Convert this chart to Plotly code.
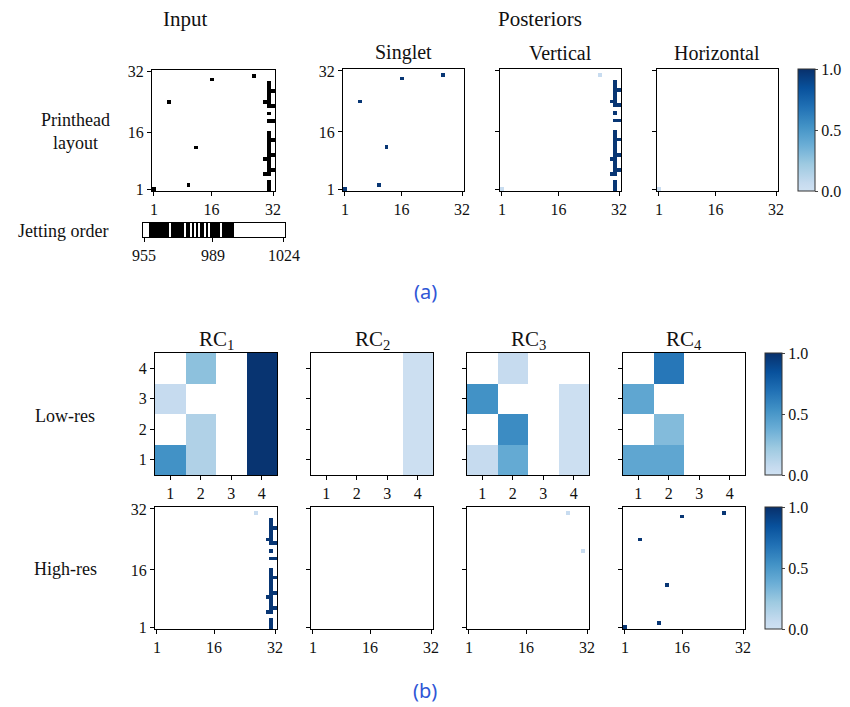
import numpy as np
import plotly.graph_objects as go

OFF = 8                      # page body margin of the browser
W, H = 850 - OFF, 707 - OFF  # figure size so that it fills the window

# ---------------- data ----------------
grid_ticks = [1, 16, 32]
low_ticks = [1, 2, 3, 4]

# printhead layout (col, row) of jetted nozzles
singlet_cells = [(1, 1), (10, 2), (12, 12), (5, 24), (16, 30), (27, 31)]
vertical_col31_rows = [1, 2, 3, 5, 6, 7, 8, 9, 10, 11, 12, 13, 14, 15, 16, 19, 21,
                       23, 24, 25, 26, 27, 28, 29]
vertical_col32_rows = [6, 10, 14, 19, 23, 27]
vertical_col30_rows = [5, 9, 24]

# jetting order strip: 955..1024, black where jetted
jet_first, jet_last = 955, 1024
jet_black = [958, 959, 960, 961, 962, 963, 964, 965, 966, 967, 969, 970, 971, 972,
             973, 974, 976, 977, 979, 981, 983, 984, 986, 988, 989, 990, 991, 992,
             994, 995, 996, 997, 998, 999]
jet_ticks = [955, 989, 1024]

# posterior values (high-res)
post_dark = 0.97
singlet_post = {c: post_dark for c in singlet_cells}
vertical_light = {(27, 31): 0.05, (1, 1): 0.04}
horizontal_post = {(1, 1): 0.03}

# low-res 4x4 maps: rows listed bottom (1) to top (4), columns 1..4
rc1_low = [[0.53, 0.15, 0.0, 0.98],
           [0.0, 0.15, 0.0, 0.98],
           [0.06, 0.0, 0.0, 0.98],
           [0.0, 0.27, 0.0, 0.98]]
rc2_low = [[0.0, 0.0, 0.0, 0.02],
           [0.0, 0.0, 0.0, 0.02],
           [0.0, 0.0, 0.0, 0.02],
           [0.0, 0.0, 0.0, 0.02]]
rc3_low = [[0.06, 0.40, 0.0, 0.02],
           [0.0, 0.56, 0.0, 0.02],
           [0.53, 0.0, 0.0, 0.02],
           [0.0, 0.06, 0.0, 0.0]]
rc4_low = [[0.42, 0.42, 0.0, 0.0],
           [0.0, 0.30, 0.0, 0.0],
           [0.42, 0.0, 0.0, 0.0],
           [0.0, 0.66, 0.0, 0.0]]

# high-res RC maps
rc3_high_light = {(27, 31): 0.05, (31, 21): 0.05}

titles_post = ["Singlet", "Vertical", "Horizontal"]
titles_rc = ["RC<sub>1</sub>", "RC<sub>2</sub>", "RC<sub>3</sub>", "RC<sub>4</sub>"]

# ---------------- helpers ----------------
blues = [[0.0, "#cfe1f2"], [0.0625, "#c6dbef"], [0.21875, "#9ecae1"],
         [0.375, "#6baed6"], [0.53125, "#4292c6"], [0.6875, "#2171b5"],
         [0.84375, "#08519c"], [1.0, "#08306b"]]

vertical_cells = ([(31, r) for r in vertical_col31_rows] +
                  [(32, r) for r in vertical_col32_rows] +
                  [(30, r) for r in vertical_col30_rows])


def grid32(d):
    z = np.full((32, 32), np.nan)
    for (c, r), v in d.items():
        z[r - 1, c - 1] = v
    return z


def lowgrid(rows):
    z = np.array(rows, dtype=float)
    z[z == 0] = np.nan
    return z


def px(x):
    return (x - OFF) / W


def py(y):
    return 1 - (y - OFF) / H


def dx(l, r):
    return [px(l), px(r)]


def dy(t, b):
    return [py(b), py(t)]


SERIF = "Liberation Serif"
tickfont = dict(family=SERIF, size=16, color="#111")

fig = go.Figure()
layout_axes = {}
ax_i = [0]


def add_axis(xd, yd, xr, yr, xt, yt, show_xlab=True, show_ylab=True):
    ax_i[0] += 1
    n = ax_i[0]
    sfx = "" if n == 1 else str(n)
    common = dict(showgrid=False, zeroline=False, showline=True, mirror=True,
                  linecolor="black", linewidth=1, ticks="outside", ticklen=4,
                  tickwidth=1, tickcolor="black", tickfont=tickfont)
    layout_axes["xaxis" + sfx] = dict(domain=xd, range=xr, anchor="y" + sfx,
                                      tickvals=xt, showticklabels=show_xlab, **common)
    layout_axes["yaxis" + sfx] = dict(domain=yd, range=yr, anchor="x" + sfx,
                                      tickvals=yt, showticklabels=show_ylab, **common)
    return "x" + sfx, "y" + sfx


def cbar(x_px, yc_px):
    return dict(x=px(x_px), xanchor="left", y=py(yc_px), yanchor="middle",
                len=122 / H, lenmode="fraction", thickness=17, xpad=0, ypad=0,
                outlinewidth=1, outlinecolor="#333", ticks="outside",
                ticklen=3, tickvals=[0, 0.5, 1],
                ticktext=["0.0", "0.5", "1.0"], tickfont=tickfont)


r32 = [0.5, 32.5]
xs32 = list(range(1, 33))
xs4 = [1, 2, 3, 4]

# ---- (a) Input ----
xa, ya = add_axis(dx(152, 275), dy(70, 191), r32, r32, grid_ticks, grid_ticks)
inp = {c: 1.0 for c in singlet_cells + vertical_cells}
fig.add_trace(go.Heatmap(z=grid32(inp), x=xs32, y=xs32, xaxis=xa, yaxis=ya,
                         colorscale=[[0, "black"], [1, "black"]], showscale=False,
                         zmin=0, zmax=1, hoverinfo="skip"))

# ---- posteriors ----
post_maps = [singlet_post,
             {**{c: post_dark for c in vertical_cells}, **vertical_light},
             horizontal_post]
post_left = [343, 500, 657]
for i, pm in enumerate(post_maps):
    xa, ya = add_axis(dx(post_left[i], post_left[i] + 121), dy(69, 191), r32, r32,
                      grid_ticks, grid_ticks, True, i == 0)
    tr = go.Heatmap(z=grid32(pm), x=xs32, y=xs32, xaxis=xa, yaxis=ya,
                    colorscale=blues, zmin=0, zmax=1, hoverinfo="skip",
                    showscale=(i == 2))
    if i == 2:
        tr.colorbar = cbar(798, 130)
    fig.add_trace(tr)

# ---- jetting order ----
jet_x = list(range(jet_first, jet_last + 1))
jet_z = [[1.0 if v in jet_black else 0.0 for v in jet_x]]
xa, ya = add_axis(dx(143, 285), dy(223, 237), [jet_first - 0.5, jet_last + 0.5],
                  [-0.5, 0.5], jet_ticks, [])
fig.add_trace(go.Heatmap(z=jet_z, x=jet_x, y=[0], xaxis=xa, yaxis=ya,
                         colorscale=[[0, "white"], [1, "black"]], zmin=0, zmax=1,
                         showscale=False, hoverinfo="skip"))
layout_axes["yaxis" + str(ax_i[0])]["ticks"] = ""

# ---- (b) low-res ----
rc_left = [155, 311, 467, 623]
low_maps = [rc1_low, rc2_low, rc3_low, rc4_low]
for i, lm in enumerate(low_maps):
    xa, ya = add_axis(dx(rc_left[i], rc_left[i] + 122), dy(353, 475), [0.5, 4.5],
                      [0.5, 4.5], low_ticks, low_ticks, True, i == 0)
    tr = go.Heatmap(z=lowgrid(lm), x=xs4, y=xs4, xaxis=xa, yaxis=ya,
                    colorscale=blues, zmin=0, zmax=1, hoverinfo="skip",
                    showscale=(i == 3))
    if i == 3:
        tr.colorbar = cbar(765, 414)
    fig.add_trace(tr)

# ---- (b) high-res ----
high_maps = [{**{c: post_dark for c in vertical_cells}, (27, 31): 0.05},
             {},
             rc3_high_light,
             {c: post_dark for c in singlet_cells}]
for i, hm in enumerate(high_maps):
    xa, ya = add_axis(dx(rc_left[i], rc_left[i] + 122), dy(507, 629), r32, r32,
                      grid_ticks, grid_ticks, True, i == 0)
    tr = go.Heatmap(z=grid32(hm), x=xs32, y=xs32, xaxis=xa, yaxis=ya,
                    colorscale=blues, zmin=0, zmax=1, hoverinfo="skip",
                    showscale=(i == 3))
    if i == 3:
        tr.colorbar = cbar(765, 568)
    fig.add_trace(tr)

# ---------------- annotations ----------------
ann = []


def text(x, y, s, size=16, family=SERIF, color="#111"):
    ann.append(dict(x=px(x), y=py(y), xref="paper", yref="paper", text=s,
                    showarrow=False, xanchor="center", yanchor="middle",
                    font=dict(family=family, size=size, color=color)))


text(185, 19, "Input", 21)
text(540, 19, "Posteriors", 21)
for i, t in enumerate(titles_post):
    text(post_left[i] + 60, 53, t, 20)
text(75, 132, "Printhead<br>layout", 18)
text(63, 231, "Jetting order", 18)
text(425, 291, "(a)", 20, "Noto Sans", "#2f56d6")
for i, t in enumerate(titles_rc):
    text(rc_left[i] + 61, 340, t, 21)
text(65, 416, "Low-res", 18)
text(66, 569, "High-res", 18)
text(425, 690, "(b)", 20, "Noto Sans", "#2f56d6")

fig.update_layout(width=W, height=H,
                  margin=dict(l=0, r=0, t=0, b=0, pad=0, autoexpand=False),
                  paper_bgcolor="white", plot_bgcolor="white",
                  annotations=ann, **layout_axes)

fig.write_html("out.html")
